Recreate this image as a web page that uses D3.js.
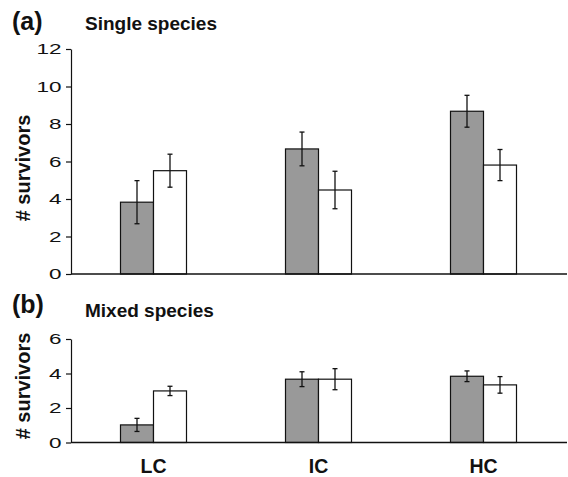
<!DOCTYPE html>
<html><head><meta charset="utf-8">
<script src="https://cdn.jsdelivr.net/npm/d3@7"></script>
<style>
body{margin:0;background:#fff;}
text{font-family:"Liberation Sans",Arial,Helvetica,sans-serif;fill:#111;}
</style></head>
<body>
<svg id="chart" width="568" height="477"></svg>
<script>
const categories = ["LC", "IC", "HC"];
const seriesNames = ["grey", "white"];
// Panel (a) Single species
const singleGrey = [3.83, 6.67, 8.68];
const singleGreyErr = [1.15, 0.9, 0.85];
const singleWhite = [5.51, 4.48, 5.81];
const singleWhiteErr = [0.88, 1.0, 0.83];
// Panel (b) Mixed species
const mixedGrey = [1.02, 3.67, 3.84];
const mixedGreyErr = [0.38, 0.43, 0.31];
const mixedWhite = [2.99, 3.67, 3.34];
const mixedWhiteErr = [0.27, 0.61, 0.48];
const ticksA = [0, 2, 4, 6, 8, 10, 12];
const ticksB = [0, 2, 4, 6];

const svg = d3.select("#chart");
const colors = {grey: "#999999", white: "#ffffff"};

const x = d3.scaleBand().domain(categories).range([71, 566]);
const barW = 33;
const xs = d3.scaleBand().domain(seriesNames)
  .range([x.bandwidth()/2 - barW, x.bandwidth()/2 + barW]);

const tickStretch = 1.5;

function panel(cfg) {
  const y = d3.scaleLinear().domain([0, cfg.max]).range([cfg.bottom, cfg.top]);
  const g = svg.append("g");
  const rows = categories.map((c, i) => ({
    cat: c,
    vals: [
      {s: "grey", v: cfg.grey[i], e: cfg.greyErr[i]},
      {s: "white", v: cfg.white[i], e: cfg.whiteErr[i]}
    ]
  }));
  const grp = g.selectAll("g.cat").data(rows).join("g")
    .attr("transform", d => `translate(${x(d.cat)},0)`);
  grp.selectAll("rect").data(d => d.vals).join("rect")
    .attr("x", d => xs(d.s))
    .attr("width", xs.bandwidth())
    .attr("y", d => y(d.v))
    .attr("height", d => y(0) - y(d.v))
    .attr("fill", d => colors[d.s])
    .attr("stroke", "#111").attr("stroke-width", 1.2);
  const eb = grp.selectAll("g.err").data(d => d.vals).join("g")
    .attr("stroke", "#111").attr("stroke-width", 1.3);
  eb.append("line")
    .attr("x1", d => xs(d.s) + xs.bandwidth()/2).attr("x2", d => xs(d.s) + xs.bandwidth()/2)
    .attr("y1", d => y(d.v + d.e)).attr("y2", d => y(d.v - d.e));
  eb.append("line")
    .attr("x1", d => xs(d.s) + xs.bandwidth()/2 - 2.5).attr("x2", d => xs(d.s) + xs.bandwidth()/2 + 2.5)
    .attr("y1", d => y(d.v + d.e)).attr("y2", d => y(d.v + d.e));
  eb.append("line")
    .attr("x1", d => xs(d.s) + xs.bandwidth()/2 - 2.5).attr("x2", d => xs(d.s) + xs.bandwidth()/2 + 2.5)
    .attr("y1", d => y(d.v - d.e)).attr("y2", d => y(d.v - d.e));

  // y axis
  const ya = g.append("g").attr("transform", "translate(71,0)")
    .call(d3.axisLeft(y).tickValues(cfg.ticks).tickFormat(d3.format("d"))
      .tickSize(5).tickPadding(4).tickSizeOuter(0));
  ya.attr("font-size", null).attr("font-family", null);
  ya.select(".domain").attr("stroke", "#111").attr("stroke-width", 1.2);
  ya.selectAll(".tick line").attr("stroke", "#111").attr("stroke-width", 1.2);
  ya.selectAll(".tick text")
    .style("font-size", "15px")
    .attr("x", -9.5 / tickStretch)
    .attr("transform", `scale(${tickStretch},1)`)
    .attr("fill", "#222");
  // x baseline
  g.append("line").attr("x1", 71).attr("x2", 567)
    .attr("y1", y(0)).attr("y2", y(0))
    .attr("stroke", "#111").attr("stroke-width", 1.5);

  g.append("text").attr("x", cfg.letterX).attr("y", cfg.titleY)
    .style("font-size", "25px").style("font-weight", "bold").text(cfg.letter);
  g.append("text").attr("x", 85).attr("y", cfg.titleY + cfg.titleDy)
    .style("font-size", "19px").style("font-weight", "bold").text(cfg.title);
  g.append("text")
    .attr("transform", `translate(30,${cfg.labelY}) rotate(-90)`)
    .attr("text-anchor", "middle")
    .style("font-size", "20px").style("font-weight", "bold")
    .text("# survivors");
  return y;
}

panel({max: 12, top: 49, bottom: 274, ticks: ticksA,
  grey: singleGrey, greyErr: singleGreyErr, white: singleWhite, whiteErr: singleWhiteErr,
  letter: "(a)", letterX: 12, titleY: 30, titleDy: 0, title: "Single species", labelY: 168});
panel({max: 6, top: 339, bottom: 442.5, ticks: ticksB,
  grey: mixedGrey, greyErr: mixedGreyErr, white: mixedWhite, whiteErr: mixedWhiteErr,
  letter: "(b)", letterX: 12, titleY: 313, titleDy: 4, title: "Mixed species", labelY: 386});

svg.append("g").selectAll("text").data(categories).join("text")
  .attr("x", d => x(d) + x.bandwidth()/2)
  .attr("y", 473)
  .attr("text-anchor", "middle")
  .style("font-size", "19.5px").style("font-weight", "bold")
  .text(d => d);
</script>
</body></html>
